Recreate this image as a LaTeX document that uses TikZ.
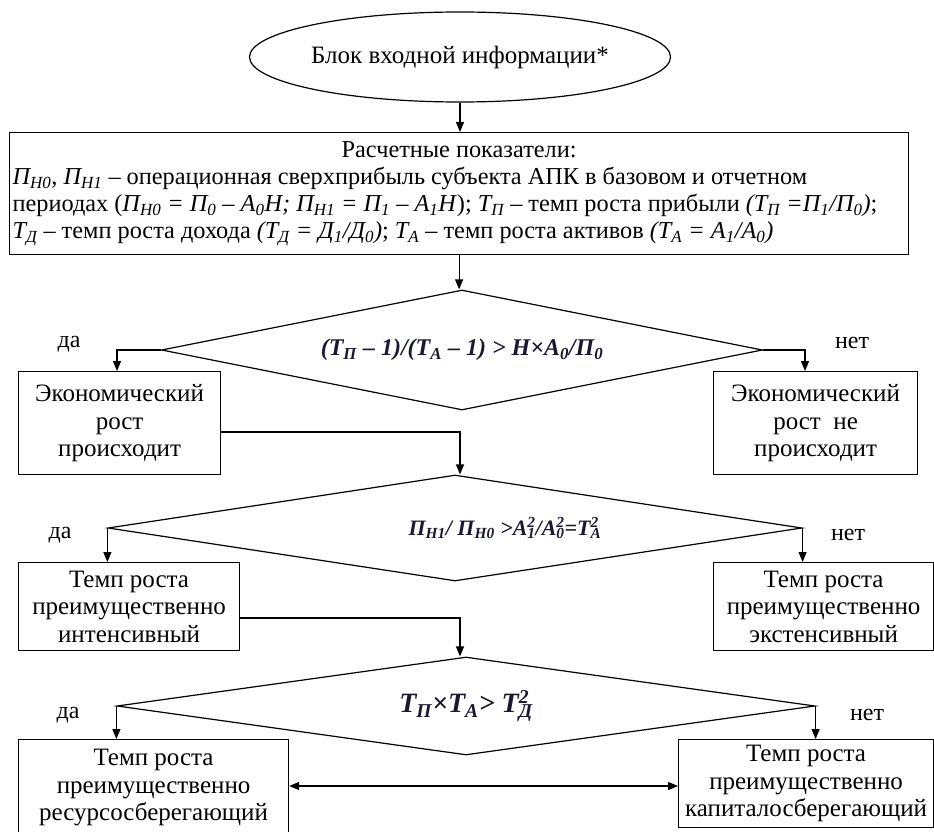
\documentclass[tikz,border=0pt]{standalone}
\usepackage{fontspec}
\setmainfont{Liberation Serif}
\usetikzlibrary{shapes.geometric,arrows.meta}
\newcommand{\sbs}[1]{\textsubscript{#1}}
\newcommand{\ssp}[2]{\rlap{\textsuperscript{#2}}\textsubscript{#1}}
\definecolor{frm}{RGB}{25,25,50}
\tikzset{
  txt/.style={font=\fontsize{25}{27.5}\selectfont},
  box/.style={txt, draw, line width=1.2pt, align=center, inner sep=0pt, anchor=north west},
  dia/.style={diamond, draw, line width=1.2pt, inner sep=0pt, shape aspect=5,
              font=\fontsize{24}{27}\selectfont\bfseries\itshape, text=frm},
  lbl/.style={font=\fontsize{24}{27}\selectfont, inner sep=0pt},
  arr/.style={line width=1.2pt, -{Triangle[length=10pt,width=8pt]}},
  darr/.style={line width=1.2pt, {Triangle[length=10pt,width=8pt]}-{Triangle[length=10pt,width=8pt]}}
}
\begin{document}
\begin{tikzpicture}[x=1pt,y=-1pt]
\useasboundingbox[fill=white] (0,0) rectangle (934,832);

\node[ellipse, draw, line width=1.2pt, minimum width=416pt, minimum height=90pt, inner sep=0pt, txt] (start) at (460,57) {Блок входной информации*};

\node[box, align=flush left, font=\fontsize{24.3}{27}\selectfont, text width=893pt, minimum width=899pt, minimum height=122pt] (info) at (9,132)
{\hbox to \hsize{\hfil Расчетные показатели:\hfil}
\mbox{\textit{П\sbs{Н0}, П\sbs{Н1}} – операционная сверхприбыль субъекта АПК в базовом и отчетном}\\
\mbox{периодах (\textit{П\sbs{Н0} = П\sbs{0} – А\sbs{0}Н; П\sbs{Н1} = П\sbs{1} – А\sbs{1}Н}); \textit{Т\sbs{П}} – темп роста прибыли \textit{(Т\sbs{П} =П\sbs{1}/П\sbs{0})};}\\
\mbox{\textit{Т\sbs{Д}} – темп роста дохода \textit{(Т\sbs{Д} = Д\sbs{1}/Д\sbs{0})}; \textit{Т\sbs{А}} – темп роста активов \textit{(Т\sbs{А} = А\sbs{1}/А\sbs{0})}}};

\node[dia, minimum width=601pt, minimum height=120pt] (d1) at (462,350)
{(T\sbs{П} – 1)/(T\sbs{A} – 1) > H×A\sbs{0}/П\sbs{0}};
\node[box, minimum width=202pt, minimum height=103pt] (e1L) at (18,371) {Экономический\\рост\\происходит};
\node[box, minimum width=204pt, minimum height=103pt] (e1R) at (713,371) {Экономический\\рост\ \ не\\происходит};

\node[dia, minimum width=694pt, minimum height=106pt, font=\fontsize{22}{27}\selectfont\bfseries\itshape] (d2) at (455,528)
{\hspace*{100pt}П\sbs{H1}/ П\sbs{H0} >A\ssp{1}{2}/A\ssp{0}{2}=T\ssp{A}{2}};
\node[box, minimum width=221pt, minimum height=88pt] (t2L) at (18,562) {Темп роста\\преимущественно\\интенсивный};
\node[box, minimum width=220pt, minimum height=88pt] (t2R) at (713,562) {Темп роста\\преимущественно\\экстенсивный};

\node[dia, minimum width=698pt, minimum height=98pt, font=\fontsize{28}{30}\selectfont\bfseries\itshape] (d3) at (466,706)
{T\sbs{П}×T\sbs{A}> T\ssp{Д}{2}};
\node[box, minimum width=270pt, minimum height=96pt] (b3L) at (18,739) {Темп роста\\преимущественно\\ресурсосберегающий};
\node[box, minimum width=255pt, minimum height=88pt] (b3R) at (678,739) {Темп роста\\преимущественно\\капиталосберегающий};

\node[lbl] (y1) at (69,344) {да};
\node[lbl] (n1) at (852,343) {нет};
\node[lbl] (y2) at (60,535) {да};
\node[lbl] (n2) at (848,535) {нет};
\node[lbl] (y3) at (68,715) {да};
\node[lbl] (n3) at (867,715) {нет};

\coordinate (ax) at (460,0);
\coordinate (v0) at (117,0);
\coordinate (v1) at (805,0);
\coordinate (c1) at (0,432);
\coordinate (c2) at (0,618);
\coordinate (c3) at (0,786);

\draw[arr] (start.south) -- (start.south |- info.north);
\draw[arr] (info.south) -- (info.south |- d1.north);
\draw[arr] (d1.west) -| (v0 |- e1L.north);
\draw[arr] (d1.east) -| (v1 |- e1R.north);
\draw[arr] (e1L.east |- c1) -| (ax |- d2.north);
\draw[arr] (d2.west) -- (d2.west |- t2L.north);
\draw[arr] (d2.east) -- (d2.east |- t2R.north);
\draw[arr] (t2L.east |- c2) -| (ax |- d3.north);
\draw[arr] (d3.west) -- (d3.west |- b3L.north);
\draw[arr] (d3.east) -- (d3.east |- b3R.north);
\draw[darr] (b3L.east |- c3) -- (b3R.west |- c3);
\end{tikzpicture}
\end{document}
